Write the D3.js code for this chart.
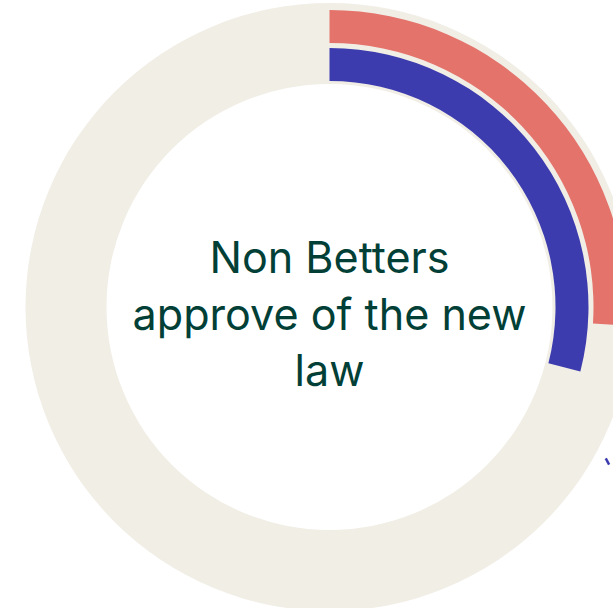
<!DOCTYPE html>
<html>
<head>
<meta charset="utf-8">
<script src="https://cdn.jsdelivr.net/npm/d3@7"></script>
<style>
  html, body { margin: 0; padding: 0; background: #ffffff; overflow: hidden; }
  svg { display: block; }
</style>
</head>
<body>
<svg id="chart" width="613" height="608"></svg>
<script>
// Share of each group approving of the new law (percent)
const categories = ["Betters", "Non Betters"];
const values = [26, 29];
const colors = ["#e4736c", "#3d3caf"];
const titleLines = ["Non Betters", "approve of the new", "law"];

const width = 613, height = 608;
const cx = 329.5, cy = 307;

const svg = d3.select("#chart");
const g = svg.append("g").attr("transform", `translate(${cx},${cy})`);

const angle = d3.scaleLinear().domain([0, 100]).range([0, 2 * Math.PI]);

// background track
const track = d3.arc().innerRadius(223).outerRadius(304).startAngle(0).endAngle(2 * Math.PI);
g.append("path").attr("d", track()).attr("fill", "#f1eee6");

// one ring per group, outermost first
const rings = [
  { inner: 264, outer: 297 },
  { inner: 226, outer: 259 }
];
categories.forEach((c, i) => {
  const arc = d3.arc()
    .innerRadius(rings[i].inner)
    .outerRadius(rings[i].outer)
    .startAngle(angle(0))
    .endAngle(angle(values[i]));
  g.append("path")
    .attr("class", "ring")
    .attr("d", arc())
    .attr("fill", colors[i]);
});

// leader stub towards the outside label of the inner ring
const leadA = angle(values[1]) + 0.25;
const p1 = d3.pointRadial(leadA, 315), p2 = d3.pointRadial(leadA + 0.012, 321);
g.append("line")
  .attr("x1", p1[0]).attr("y1", p1[1]).attr("x2", p2[0]).attr("y2", p2[1])
  .attr("stroke", colors[1]).attr("stroke-width", 2.5);

// centre title
const fontFamily = "Inter, 'Noto Sans', sans-serif";
const probe = svg.append("text").attr("font-family", fontFamily).attr("font-size", 100).text(titleLines[1]);
const w100 = probe.node().getComputedTextLength();
probe.remove();
const fs = 100 * 394 / w100;

const baselines = [-34, 23, 79];
g.selectAll("text.title")
  .data(titleLines)
  .join("text")
  .attr("class", "title")
  .attr("x", 0)
  .attr("y", (d, i) => baselines[i])
  .attr("text-anchor", "middle")
  .attr("font-family", fontFamily)
  .attr("font-size", fs)
  .attr("fill", "#023f36")
  .text(d => d);
</script>
</body>
</html>
